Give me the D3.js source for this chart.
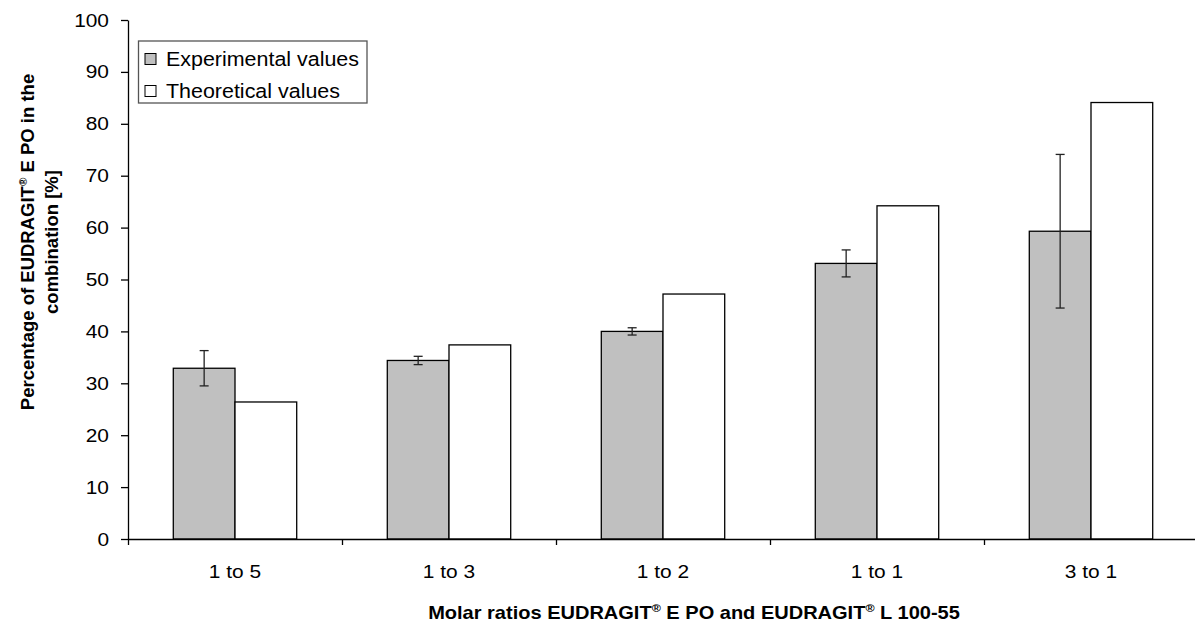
<!DOCTYPE html>
<html>
<head>
<meta charset="utf-8">
<script src="https://cdn.jsdelivr.net/npm/d3@7"></script>
<style>
  body { margin: 0; background: #fff; }
  svg { display: block; font-family: Arial, "Liberation Sans", sans-serif; }
</style>
</head>
<body>
<div id="chart"></div>
<script>
// data
const categories = ['1 to 5', '1 to 3', '1 to 2', '1 to 1', '3 to 1'];
const seriesNames = ['Experimental values', 'Theoretical values'];
const experimental = [32.9, 34.4, 40.0, 53.1, 59.3];
const experimentalErr = [3.4, 0.8, 0.7, 2.6, 14.8];
const theoretical = [26.4, 37.4, 47.2, 64.2, 84.1];
const yTicks = [0, 10, 20, 30, 40, 50, 60, 70, 80, 90, 100];

const width = 1195, height = 623;
const margin = { top: 20, left: 128, right: -3, bottom: 84 };
const stretch = 1.1; // text in the source is a little wider than plain Arial
const fills = ['#c0c0c0', '#ffffff'];

const svg = d3.select('#chart').append('svg')
  .attr('width', width)
  .attr('height', height);

const x0 = d3.scaleBand().domain(categories)
  .range([margin.left, width - margin.right]).padding(0);
const x1 = d3.scaleBand().domain(seriesNames)
  .range([0, x0.bandwidth()]).paddingInner(0).paddingOuter(0.734);
const y = d3.scaleLinear().domain([0, 100])
  .range([height - margin.bottom, margin.top]);

const rows = categories.map((c, i) => ({
  cat: c,
  vals: [
    { s: seriesNames[0], v: experimental[i], e: experimentalErr[i] },
    { s: seriesNames[1], v: theoretical[i], e: null }
  ]
}));

// bars
const groups = svg.append('g').attr('class', 'bars')
  .selectAll('g').data(rows).enter().append('g')
  .attr('transform', d => `translate(${x0(d.cat)},0)`);

groups.selectAll('rect').data(d => d.vals).enter().append('rect')
  .attr('x', d => x1(d.s))
  .attr('y', d => y(d.v))
  .attr('width', x1.bandwidth())
  .attr('height', d => y(0) - y(d.v))
  .attr('fill', (d, i) => fills[i])
  .attr('stroke', '#000')
  .attr('stroke-width', 1.3);

// error bars on experimental values
const errs = groups.selectAll('g.err').data(d => d.vals.filter(v => v.e !== null))
  .enter().append('g').attr('class', 'err')
  .attr('stroke', '#222').attr('stroke-width', 1.3);
const cx = d => x1(d.s) + x1.bandwidth() / 2;
errs.append('line')
  .attr('x1', cx).attr('x2', cx)
  .attr('y1', d => y(d.v + d.e)).attr('y2', d => y(d.v - d.e));
errs.append('line')
  .attr('x1', d => cx(d) - 4.5).attr('x2', d => cx(d) + 4.5)
  .attr('y1', d => y(d.v + d.e)).attr('y2', d => y(d.v + d.e));
errs.append('line')
  .attr('x1', d => cx(d) - 4.5).attr('x2', d => cx(d) + 4.5)
  .attr('y1', d => y(d.v - d.e)).attr('y2', d => y(d.v - d.e));

// y axis
const yAxis = svg.append('g')
  .attr('transform', `translate(${margin.left},0)`)
  .call(d3.axisLeft(y).tickValues(yTicks).tickSize(7).tickSizeOuter(0));
yAxis.select('.domain').attr('stroke', '#000').attr('stroke-width', 1.3);
yAxis.selectAll('.tick line').attr('stroke', '#000').attr('stroke-width', 1.3);
yAxis.selectAll('.tick text')
  .attr('x', -19 / stretch)
  .attr('transform', `scale(${stretch},1)`)
  .attr('fill', '#000')
  .style('font-size', '19px')
  .style('font-family', 'Arial, "Liberation Sans", sans-serif');

// x axis: labels at band centres, ticks on band boundaries
const xAxis = svg.append('g')
  .attr('transform', `translate(0,${y(0)})`)
  .call(d3.axisBottom(x0).tickSize(0).tickPadding(26));
xAxis.select('.domain').attr('stroke', '#000').attr('stroke-width', 1.3);
xAxis.selectAll('.tick text')
  .attr('transform', `scale(${stretch},1)`)
  .attr('fill', '#000')
  .style('font-size', '19px')
  .style('font-family', 'Arial, "Liberation Sans", sans-serif');

const xb = d3.scaleLinear().domain([0, categories.length])
  .range([margin.left, width - margin.right]);
svg.append('g')
  .attr('transform', `translate(0,${y(0)})`)
  .call(d3.axisBottom(xb).tickValues(d3.range(categories.length + 1))
    .tickFormat('').tickSize(6).tickSizeOuter(0))
  .call(g => g.select('.domain').remove())
  .selectAll('.tick line').attr('stroke', '#000').attr('stroke-width', 1.3);

// titles
function regText(sel, before, after, rise) {
  sel.append('tspan').text(before);
  sel.append('tspan').text('®').attr('dy', -rise).style('font-size', '0.62em');
  sel.append('tspan').text(after).attr('dy', rise);
}

const xt = svg.append('text')
  .attr('transform', `translate(694,619) scale(${stretch},1)`)
  .attr('text-anchor', 'middle')
  .style('font-size', '18.2px').style('font-weight', 'bold');
regText(xt, 'Molar ratios EUDRAGIT', ' E PO and EUDRAGIT', 7);
xt.select('tspan:last-child').text(' E PO and EUDRAGIT');
xt.append('tspan').text('®').attr('dy', -7).style('font-size', '0.62em');
xt.append('tspan').text(' L 100-55').attr('dy', 7);

const yt1 = svg.append('text')
  .attr('transform', 'translate(34,242) rotate(-90)')
  .attr('text-anchor', 'middle')
  .style('font-size', '18.5px').style('font-weight', 'bold');
regText(yt1, 'Percentage of EUDRAGIT', ' E PO in the', 7);

svg.append('text')
  .attr('transform', 'translate(58,242) rotate(-90)')
  .attr('text-anchor', 'middle')
  .style('font-size', '18.5px').style('font-weight', 'bold')
  .text('combination [%]');

// legend
const legend = svg.append('g');
legend.append('rect')
  .attr('x', 138.5).attr('y', 41).attr('width', 228.5).attr('height', 62)
  .attr('fill', '#fff').attr('stroke', '#555').attr('stroke-width', 1.3);
const items = legend.selectAll('g.item').data(seriesNames).enter().append('g')
  .attr('transform', (d, i) => `translate(145,${59 + i * 32})`);
items.append('rect')
  .attr('x', 0).attr('y', -5.5).attr('width', 11).attr('height', 11)
  .attr('fill', (d, i) => fills[i]).attr('stroke', '#000').attr('stroke-width', 1);
items.append('text')
  .attr('transform', `translate(21,7) scale(${stretch},1)`)
  .style('font-size', '19.5px')
  .text(d => d);
</script>
</body>
</html>
